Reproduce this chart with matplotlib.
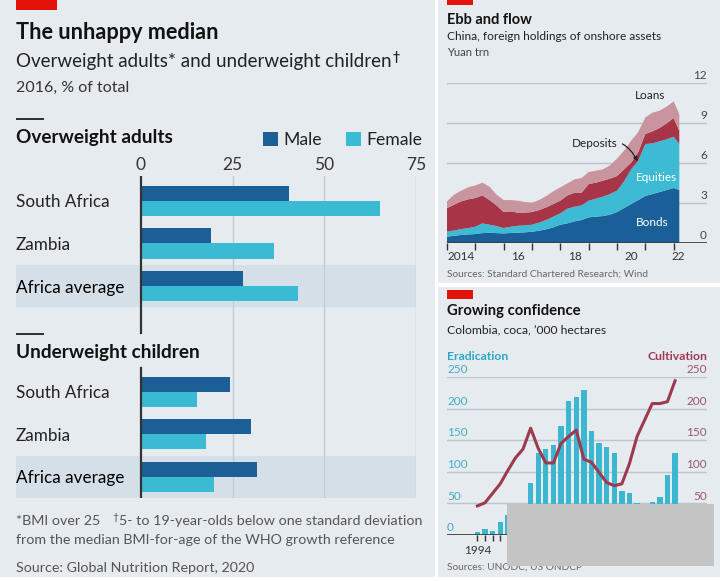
import matplotlib
matplotlib.use("Agg")
import numpy as np
import matplotlib.pyplot as plt
import matplotlib.transforms as mtransforms
from matplotlib.patches import Rectangle

plt.rcParams['font.family'] = ['Lato', 'DejaVu Sans']

# ==================== Data ====================
# left: The unhappy median (% of total, 2016)
countries = ['South Africa', 'Zambia', 'Africa average']
over_male = [40.4, 19.0, 27.7]
over_female = [65.2, 36.3, 42.9]
under_male = [24.3, 30.0, 31.5]
under_female = [15.3, 17.6, 19.8]
pct_ticks = [0, 25, 50, 75]

# top right: Ebb and flow (yuan trn, quarterly)
ebb_x = [2014.0, 2014.25, 2014.5, 2014.75, 2015.0, 2015.25, 2015.5, 2015.75,
         2016.0, 2016.25, 2016.5, 2016.75, 2017.0, 2017.25, 2017.5, 2017.75,
         2018.0, 2018.25, 2018.5, 2018.75, 2019.0, 2019.25, 2019.5, 2019.75,
         2020.0, 2020.25, 2020.5, 2020.75, 2021.0, 2021.25, 2021.5, 2021.75,
         2022.0, 2022.2]
bonds = [0.45, 0.52, 0.58, 0.62, 0.65, 0.72, 0.74, 0.72, 0.70, 0.73, 0.75, 0.78,
         0.82, 0.90, 1.00, 1.15, 1.35, 1.45, 1.60, 1.70, 1.90, 1.95, 2.00, 2.10,
         2.30, 2.60, 2.90, 3.20, 3.50, 3.65, 3.80, 3.95, 4.10, 3.95]
equities = [0.37, 0.40, 0.44, 0.48, 0.55, 0.73, 0.61, 0.53, 0.40, 0.47, 0.52, 0.52,
            0.53, 0.60, 0.70, 0.80, 0.85, 1.10, 1.10, 1.10, 1.25, 1.35, 1.45, 1.55,
            1.60, 2.00, 2.60, 2.95, 3.90, 3.80, 3.80, 3.80, 3.85, 3.45]
deposits = [1.78, 1.93, 2.08, 2.15, 2.15, 2.10, 1.85, 1.55, 1.20, 1.15, 0.98, 0.95,
            0.95, 0.95, 0.95, 0.95, 0.95, 1.00, 1.05, 0.95, 1.25, 1.20, 1.20, 1.15,
            1.10, 0.90, 0.50, 0.65, 0.75, 0.90, 1.00, 1.20, 1.40, 1.00]
loans = [0.50, 0.75, 0.80, 0.90, 0.95, 0.95, 1.00, 0.80, 0.90, 0.85, 0.90, 0.80,
         0.70, 0.75, 0.85, 0.95, 1.00, 0.90, 1.00, 1.10, 0.90, 0.90, 0.85, 1.00,
         1.30, 1.40, 1.65, 1.50, 1.25, 1.40, 1.30, 1.25, 1.25, 1.25]
ebb_ticks = [0, 3, 6, 9, 12]
ebb_years = [2014, 2015, 2016, 2017, 2018, 2019, 2020, 2021, 2022]
ebb_year_labels = ['2014', '16', '18', '20', '22']
ebb_label_pos = [2014.5, 2016.5, 2018.5, 2020.5, 2022.15]

# bottom right: Growing confidence ('000 hectares)
col_years = list(range(1994, 2021))
eradication = [5, 9, 7, 20, 31, 43, 45, 83, 129, 136, 143, 172, 212, 218, 229,
               165, 145, 139, 130, 69, 67, 50, 18, 52, 60, 95, 129]
cultivation = [46, 51, 66, 81, 102, 122, 136, 169, 137, 114, 114, 145, 156, 166,
               120, 115, 99, 83, 78, 81, 113, 156, 182, 208, 208, 211, 244]
col_ticks = [0, 50, 100, 150, 200, 250]

# ==================== Style ====================
W, H = 720, 581
BG = '#e5ebef'
BAND = '#d4dfe7'
GRID = '#c3ccd3'
DARK_BLUE = '#1c5e96'
LIGHT_BLUE = '#3bbad3'
RED = '#e3120b'
INK = '#121212'
GREY = '#555555'

fig = plt.figure(figsize=(W / 100, H / 100), dpi=100, facecolor=BG)


def prect(x0, y0, x1, y1, **kw):
    fig.add_artist(Rectangle((x0 / W, 1 - y1 / H), (x1 - x0) / W, (y1 - y0) / H,
                             transform=fig.transFigure, lw=0, **kw))


def ftxt(x, y, s, **kw):
    kw.setdefault('va', 'baseline')
    return fig.text(x / W, 1 - y / H, s, **kw)


def add_axes_px(x0, y0, x1, y1):
    ax = fig.add_axes([x0 / W, 1 - y1 / H, (x1 - x0) / W, (y1 - y0) / H])
    ax.set_facecolor('none')
    for s in ax.spines.values():
        s.set_visible(False)
    return ax


# panel separators
prect(435, 0, 438, H, color='white')
prect(438, 283, W, 287, color='white')
prect(0, 577, W, H, color='white')

# ==================== Left: The unhappy median ====================
prect(16, 0, 57, 10, color=RED)
ftxt(16, 39, 'The unhappy median', fontsize=15.6, fontweight='bold', color=INK)
sub = ftxt(16, 66.5, 'Overweight adults* and underweight children', fontsize=13.5, color='#222222')
ftxt(16, 91.5, '2016, % of total', fontsize=11.5, color='#333333')
prect(16, 118, 44, 120, color='#333333')
ftxt(16, 142.5, 'Overweight adults', fontsize=13.7, fontweight='bold', color=INK)
prect(16, 333, 44, 335, color='#333333')
ftxt(16, 358, 'Underweight children', fontsize=13.7, fontweight='bold', color=INK)

px_per = (416 - 141) / 75
xmin = -(141 - 16) / px_per
pitch = 42.5
rows = np.arange(len(countries))
bh = 0.355

ax_top = add_axes_px(16, 176, 416, 307)
ax_top.set_ylim((307 - 201) / pitch, -(201 - 176) / pitch)
ax_bot = add_axes_px(16, 307, 416, 498)
ax_bot.set_ylim(2.5, -(392 - 307) / pitch)

for ax, male, female in [(ax_top, over_male, over_female), (ax_bot, under_male, under_female)]:
    ax.set_xlim(xmin, 75)
    ax.axhspan(1.5, 2.5, color=BAND, lw=0, zorder=0)
    for t in pct_ticks[1:]:
        ax.axvline(t, color=GRID, lw=1, zorder=1)
    ax.barh(rows - bh / 2, male, height=bh, color=DARK_BLUE, zorder=2, label='Male')
    ax.barh(rows + bh / 2, female, height=bh, color=LIGHT_BLUE, zorder=2, label='Female')
    ax.set_yticks(rows)
    ax.set_yticklabels(countries, fontsize=12.3, color='#222222')
    for lab in ax.get_yticklabels():
        lab.set_ha('left')
    ax.get_yticklabels()[2].set_color('#000000')
    ax.tick_params(axis='y', length=0, pad=0)

ax_top.axvline(0, color='#333333', lw=1.6, zorder=3)
ax_bot.axvline(0, ymin=1 - (333 - 307) / 191, ymax=1, color='#333333', lw=1.6, zorder=3)
ax_bot.axvline(0, ymin=0, ymax=1 - (368 - 307) / 191, color='#333333', lw=1.6, zorder=3)

ax_top.xaxis.tick_top()
ax_top.set_xticks(pct_ticks)
ax_top.set_xticklabels([str(t) for t in pct_ticks], fontsize=12.5, color='#333333')
ax_top.tick_params(axis='x', length=0, pad=2)
ax_bot.set_xticks([])

handles, labels = ax_top.get_legend_handles_labels()
fig.legend(handles, labels, loc='lower left', bbox_to_anchor=(263 / W, 1 - 148 / H),
           ncol=2, frameon=False, fontsize=12.7, handlelength=0.85, handleheight=0.85,
           handletextpad=0.3, columnspacing=1.4, borderpad=0, borderaxespad=0,
           labelcolor='#222222')

# superscript daggers
renderer = fig.canvas.get_renderer()
bb = sub.get_window_extent(renderer)
fig.text(bb.x1 / W + 1 / W, 1 - 61 / H, '\u2020', fontsize=9, color='#222222',
         va='baseline', fontweight='bold')

f1 = ftxt(16, 525, '*BMI over 25', fontsize=10.3, color=GREY)
bb = f1.get_window_extent(renderer)
d = ftxt(bb.x1 + 12, 520, '\u2020', fontsize=7.5, color=GREY)
bb = d.get_window_extent(renderer)
ftxt(bb.x1 + 0.5, 525, '5- to 19-year-olds below one standard deviation', fontsize=10.3, color=GREY)
ftxt(16, 544.5, 'from the median BMI-for-age of the WHO growth reference', fontsize=10.3, color=GREY)
ftxt(16, 571.5, 'Source: Global Nutrition Report, 2020', fontsize=10.3, color=GREY)

# ==================== Top right: Ebb and flow ====================
prect(447, 0, 473, 5, color=RED)
ftxt(447, 24, 'Ebb and flow', fontsize=10.5, fontweight='bold', color=INK)
ftxt(447, 40.5, 'China, foreign holdings of onshore assets', fontsize=8.6, color='#222222')
ftxt(447, 55.5, 'Yuan trn', fontsize=8.0, color='#444444')

ax_e = add_axes_px(447, 82.7, 707, 242.7)
ax_e.set_xlim(2014, 2014 + 260 / 28.33)
ax_e.set_ylim(0, 12)
for v in ebb_ticks[1:]:
    ax_e.axhline(v, color='#b9c3ca', lw=1, zorder=0)
ax_e.stackplot(ebb_x, bonds, equities, deposits, loans,
               colors=['#1b5f98', '#3dbbd5', '#a83448', '#c8959f'], lw=0, zorder=1)
ax_e.axhline(0, color='#333333', lw=1.2, zorder=3)
ytr = mtransforms.blended_transform_factory(ax_e.transAxes, ax_e.transData)
for v in ebb_ticks:
    ax_e.text(1.0, v + 0.15, str(v), transform=ytr, ha='right', va='bottom',
              fontsize=8.5, color='#444444')
ax_e.set_yticks([])
ax_e.set_xticks(ebb_years)
ax_e.set_xticklabels([])
ax_e.set_xticks(ebb_label_pos, minor=True)
ax_e.set_xticklabels(ebb_year_labels, minor=True, fontsize=8.5, color='#333333')
ax_e.tick_params(axis='x', which='major', length=5, width=1, color='#333333', direction='out')
ax_e.tick_params(axis='x', which='minor', length=0, pad=6)

ax_e.text(2021.17, 10.6, 'Loans', ha='center', va='bottom', fontsize=8.5, color='#222222')
ax_e.text(2021.38, 4.9, 'Equities', ha='center', va='center', fontsize=8.5, color='white')
ax_e.text(2021.24, 1.55, 'Bonds', ha='center', va='center', fontsize=8.5, color='white')
ax_e.annotate('Deposits', xy=(2020.72, 6.1), xytext=(2019.2, 7.45), ha='center', va='center',
              fontsize=8.5, color='#222222',
              arrowprops=dict(arrowstyle='-|>', connectionstyle='arc3,rad=-0.45',
                              color='#222222', lw=0.9, mutation_scale=6, shrinkA=2, shrinkB=0))
ftxt(447, 277, 'Sources: Standard Chartered Research; Wind', fontsize=7.3, color='#666666')

# ==================== Bottom right: Growing confidence ====================
prect(447, 290, 473, 299, color=RED)
ftxt(447, 315.5, 'Growing confidence', fontsize=10.7, fontweight='bold', color=INK)
ftxt(447, 333, 'Colombia, coca, \u2019000 hectares', fontsize=8.7, color='#222222')
TEAL_T = '#2ea7c5'
MAROON = '#a03a50'
ftxt(447, 360, 'Eradication', fontsize=8.8, fontweight='bold', color=TEAL_T)
ftxt(707, 360, 'Cultivation', fontsize=8.8, fontweight='bold', color=MAROON, ha='right')

ax_c = add_axes_px(447, 377, 707, 535)
ax_c.set_xlim(1990, 2024.2)
ax_c.set_ylim(0, 250)
for v in col_ticks[1:]:
    ax_c.axhline(v, color='#bcc6cc', lw=1, zorder=0)
ax_c.bar(col_years, eradication, width=0.7, color='#3db6cf', zorder=1)
ax_c2 = ax_c.twinx()
for s in ax_c2.spines.values():
    s.set_visible(False)
ax_c2.set_ylim(0, 250)
ax_c2.plot(col_years, cultivation, color='#9d3a50', lw=2.2, zorder=3)
ax_c2.set_yticks([])
ax_c.axhline(0, color='#333333', lw=1.2, zorder=3)
ytr = mtransforms.blended_transform_factory(ax_c.transAxes, ax_c.transData)
for v in col_ticks:
    ax_c.text(0.0, v + 3, str(v), transform=ytr, ha='left', va='bottom', fontsize=8.5, color='#45aac6')
    ax_c.text(1.0, v + 3, str(v), transform=ytr, ha='right', va='bottom', fontsize=8.5, color='#9d5566')
ax_c.set_yticks([])
ax_c.set_xticks(col_years)
ax_c.set_xticklabels(['1994'] + [''] * (len(col_years) - 1), fontsize=8.5, color='#333333')
ax_c.tick_params(axis='x', length=4, width=1, color='#333333', pad=3)
ftxt(447, 570, 'Sources: UNODC; US ONDCP', fontsize=7.3, color='#666666')

# redaction box over the lower-right corner
prect(507, 504, 714, 566, color='#c4c4c4', zorder=10)

fig.savefig('out.png', dpi=100, facecolor=BG)
